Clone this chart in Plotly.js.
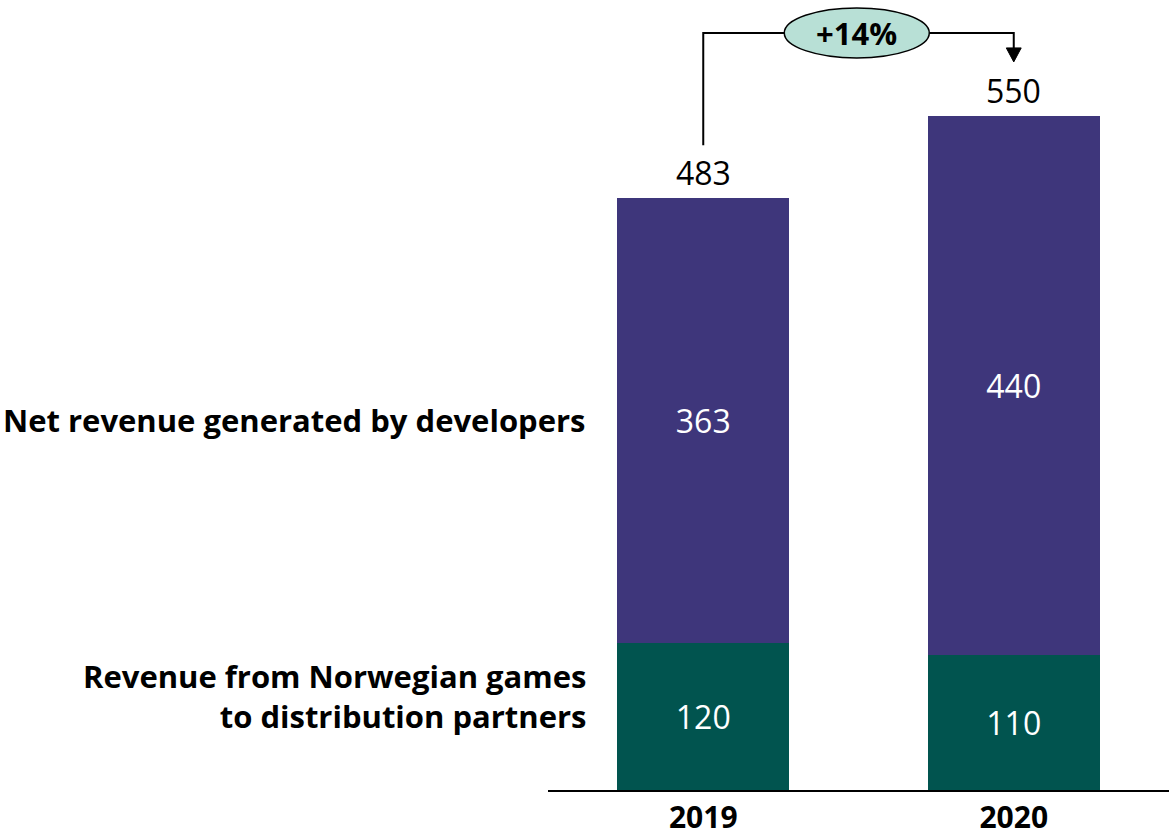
<!DOCTYPE html>
<html>
<head>
<meta charset="utf-8">
<script src="https://cdn.plot.ly/plotly-3.0.1.min.js"></script>
<style>html,body{margin:0;padding:0;background:#fff;}#chart{width:1169px;height:838px;}</style>
</head>
<body>
<div id="chart"></div>
<script>
const years = ['2019', '2020'];
const distribution = [120, 110];
const developers = [363, 440];
const totals = [483, 550];
const seriesNames = ['Revenue from Norwegian games<br>to distribution partners', 'Net revenue generated by developers'];

const FONT = '"Open Sans", Lato, sans-serif';
const PURPLE = '#3e367b';
const GREEN = '#01544f';
const xIdx = years.map((_, i) => i);

const growth = Math.round((totals[1] / totals[0] - 1) * 100);

const traces = [
  {
    type: 'bar', x: xIdx, y: distribution, name: 'dist',
    marker: {color: GREEN, line: {width: 0}},
    text: distribution.map(String), textposition: 'inside', insidetextanchor: 'middle',
    textfont: {family: FONT, size: 32, color: '#ffffff'}, hoverinfo: 'skip'
  },
  {
    type: 'bar', x: xIdx, y: developers, name: 'dev',
    marker: {color: PURPLE, line: {width: 0}},
    text: developers.map(String), textposition: 'inside', insidetextanchor: 'middle',
    textfont: {family: FONT, size: 32, color: '#ffffff'}, hoverinfo: 'skip'
  }
];

// bracket geometry in data units
const yBracket = 617.6;
const yLeftStart = 526;
const ellX0 = 0.261, ellX1 = 0.728;
const ellY0 = 597.2, ellY1 = 638;
const headBase = 605.4, headTip = 594;

const shapes = [
  {type: 'path', xref: 'x', yref: 'y',
   path: `M 0 ${yLeftStart} L 0 ${yBracket} L ${ellX0} ${yBracket}`,
   line: {color: '#000', width: 2}},
  {type: 'path', xref: 'x', yref: 'y',
   path: `M ${ellX1} ${yBracket} L 1 ${yBracket} L 1 ${headBase}`,
   line: {color: '#000', width: 2}},
  {type: 'path', xref: 'x', yref: 'y',
   path: `M 0.976 ${headBase} L 1.024 ${headBase} L 1 ${headTip} Z`,
   fillcolor: '#000', line: {color: '#000', width: 1}},
  {type: 'circle', xref: 'x', yref: 'y', x0: ellX0, x1: ellX1, y0: ellY0, y1: ellY1,
   fillcolor: '#b8e0d6', line: {color: '#000', width: 1.5}}
];

const annotations = [
  {x: (ellX0 + ellX1) / 2, y: (ellY0 + ellY1) / 2, xref: 'x', yref: 'y', text: '<b>+' + growth + '%</b>',
   showarrow: false, font: {family: FONT, size: 31, color: '#000'}},
  ...totals.map((t, i) => ({x: i, y: t, xref: 'x', yref: 'y', text: String(t), showarrow: false,
    yanchor: 'bottom', yshift: 2, font: {family: FONT, size: 32, color: '#000'}})),
  {xref: 'paper', yref: 'y', x: 0, xshift: 40, xanchor: 'right', y: distribution[0] + developers[0] / 2,
   text: '<b>' + seriesNames[1] + '</b>', showarrow: false, align: 'right',
   font: {family: FONT, size: 31, color: '#000'}},
  {xref: 'paper', yref: 'y', x: 0, xshift: 40, xanchor: 'right', y: 77,
   text: '<b>' + seriesNames[0] + '</b>', showarrow: false, align: 'right',
   font: {family: FONT, size: 31, color: '#000'}}
];

const layout = {
  width: 1169, height: 838,
  margin: {l: 548, r: 0, t: 0, b: 48},
  paper_bgcolor: '#fff', plot_bgcolor: 'rgba(0,0,0,0)',
  barmode: 'stack', bargap: 0.446,
  showlegend: false,
  xaxis: {
    range: [-0.5, 1.5], tickvals: xIdx, ticktext: years.map(y => '<b>' + y + '</b>'),
    showgrid: false, zeroline: false, showline: true, linecolor: '#000', linewidth: 2,
    ticks: '', ticklabelstandoff: 0,
    tickfont: {family: FONT, size: 30, color: '#000'}, fixedrange: true
  },
  yaxis: {
    range: [0, 644.5], visible: false, showgrid: false, zeroline: false, fixedrange: true
  },
  shapes: shapes,
  annotations: annotations,
  uniformtext: {mode: false}
};

Plotly.newPlot('chart', traces, layout, {displayModeBar: false, staticPlot: true});
</script>
</body>
</html>
